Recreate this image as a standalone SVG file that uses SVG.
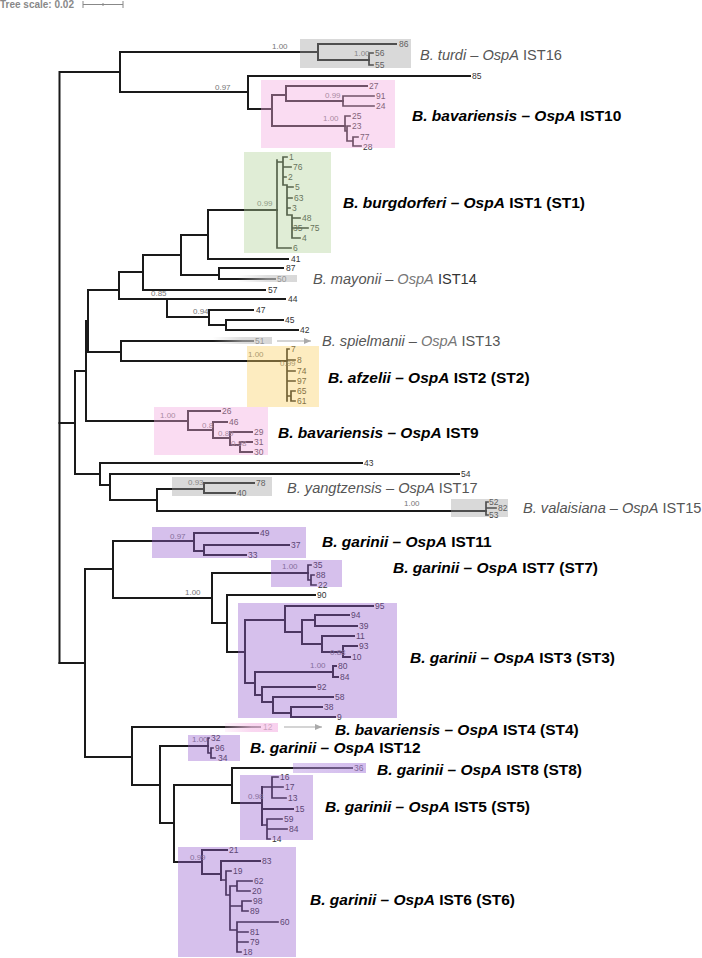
<svg xmlns="http://www.w3.org/2000/svg" width="702" height="958" viewBox="0 0 702 958">
<defs>
<style>
text{font-family:"Liberation Sans",Arial,sans-serif}
.t{fill:none;stroke:#1a1a1a;stroke-width:2;stroke-linecap:square}
.ti{fill:none;stroke:#1a1a1a;stroke-width:1.7;stroke-linecap:square}
.lf{font-size:8.5px;fill:#333}
.sv{font-size:8px;fill:#777}
.bl{font-size:15.5px;font-weight:bold;fill:#000}
.nl{font-size:14.6px;fill:#555}
.it{font-style:italic}
.bx{stroke:none}
.gy{fill:#a0a0a0;fill-opacity:0.4}
.pk{fill:#f2a7de;fill-opacity:0.4}
.gn{fill:#b1d298;fill-opacity:0.4}
.or{fill:#facf61;fill-opacity:0.4}
.pu{fill:#9861cf;fill-opacity:0.4}
.ar{stroke:#aaa;stroke-width:1.2;fill:none}
</style>
<marker id="ah" markerWidth="8" markerHeight="8" refX="7" refY="4" orient="auto" markerUnits="userSpaceOnUse">
<path d="M0 1 L7 4 L0 7 Z" fill="#aaa"/>
</marker>
<linearGradient id="gGray" x1="0" y1="0" x2="1" y2="0">
<stop offset="0" stop-color="#c8c8c8" stop-opacity="0"/>
<stop offset="0.5" stop-color="#c8c8c8" stop-opacity="0.6"/>
<stop offset="1" stop-color="#c8c8c8" stop-opacity="0.7"/>
</linearGradient>
<linearGradient id="gPink" x1="0" y1="0" x2="1" y2="0">
<stop offset="0" stop-color="#f7c6ea" stop-opacity="0.2"/>
<stop offset="0.5" stop-color="#f7c6ea" stop-opacity="0.7"/>
<stop offset="1" stop-color="#f7c6ea" stop-opacity="0.8"/>
</linearGradient>
<linearGradient id="gPurp" x1="0" y1="0" x2="1" y2="0">
<stop offset="0" stop-color="#b48ee0" stop-opacity="0.45"/>
<stop offset="1" stop-color="#b48ee0" stop-opacity="0.6"/>
</linearGradient>
</defs>

<rect width="702" height="958" fill="#fff"/>

<g id="scale">
<text x="0" y="8" style="font-size:10px;font-weight:bold;fill:#888">Tree scale: 0.02</text>
<path d="M83 4.5 H123 M83 1 V8 M123 1 V8 M103 3 V6" stroke="#888" stroke-width="1" fill="none"/>
</g>

<g id="connectors">
<path class="t" d="M59.5 72 V663 M59.5 72 H120 M120 52 V92 M120 52 H318 M318 44 V60 M318 44 H396 M318 60 H369 M120 92 H248 M248 76 V109 M248 76 H470 M248 109 H272 M272 95 V126 M272 95 H286 M286 86 V101 M286 86 H367 M286 101 H343 M272 126 H345"/>
<path class="ti" d="M369 53 V65 M369 53 H373 M369 65 H373 M343 96 V106 M343 96 H374 M343 106 H374 M345 116 V131 M345 116 H350 M345 131 H347 M347 126 V141 M347 126 H350 M347 141 H353 M353 137 V146 M353 137 H358 M353 146 H361"/>
<path class="t" d="M59.5 423 H75 M75 371 V474 M75 371 H86 M86 321 V421 M86 321 H88 M88 290 V352 M88 290 H119 M119 272 V299 M119 272 H143 M143 255 V290 M143 255 H181 M181 235 V275 M181 235 H208 M208 210 V259 M208 210 H277 M208 259 H288 M181 275 H219 M219 268 V279 M219 268 H283 M219 279 H275 M143 290 H265 M119 299 H285 M167 299 V317 M167 317 H209 M209 310 V325 M209 310 H253 M209 325 H226 M226 320 V330 M226 320 H283 M226 330 H298"/>
<path class="ti" d="M277 160 V248 M277 248 H291 M277 162 H283 M283 157 V185 M283 157 H287 M283 167 H291 M283 177 H286 M283 185 H287 M287 185 V215 M287 187 H293 M287 198 H292 M287 208 H290 M287 215 H292 M292 215 V238 M292 218 H300 M292 228 H308 M292 238 H300"/>
<path class="t" d="M88 352 H121 M121 341 V361 M121 341 H253 M121 361 H287 M86 421 H188 M188 411 V430 M188 411 H220 M188 430 H213 M213 422 V438 M213 422 H227 M213 438 H230 M230 432 V445 M230 432 H252 M230 445 H240 M240 442 V452 M240 442 H252 M240 452 H252"/>
<path class="ti" d="M287 349 V401 M287 349 H289 M287 360 H295 M287 371 H295 M287 381 H295 M287 396 H291 M291 391 V401 M291 391 H295 M291 401 H295"/>
<path class="t" d="M75 474 H100 M100 463 V485 M100 463 H362 M100 485 H110 M110 474 V500 M110 474 H459 M110 500 H157 M157 489 V511 M157 489 H204 M204 483 V493 M204 483 H254 M204 493 H235 M157 511 H486"/>
<path class="ti" d="M486 502 V515 M486 502 H488 M486 508 H496 M486 515 H488"/>
<path class="t" d="M59.5 663 H85 M85 569 V757 M85 569 H113 M113 541 V598 M113 541 H194 M194 533 V551 M194 533 H258 M194 551 H204 M204 545 V555 M204 545 H289 M204 555 H246 M113 598 H212 M212 573 V623 M212 573 H308 M212 623 H227 M227 595 V652 M227 595 H315 M227 652 H245 M245 620 V683 M245 620 H285 M285 606 V632 M285 606 H373 M285 632 H302 M302 620 V644 M302 620 H315 M315 615 V626 M315 615 H349 M315 626 H357 M302 644 H322 M322 636 V652 M322 636 H354 M322 652 H343 M343 646 V657 M343 646 H357 M343 657 H350 M245 683 H255 M255 672 V695 M255 672 H333 M333 666 V677 M333 666 H336 M333 677 H338 M255 695 H262 M262 687 V702 M262 687 H315 M262 702 H273 M273 697 V713 M273 697 H333 M273 713 H291 M291 707 V717 M291 707 H322 M291 717 H335"/>
<path class="ti" d="M308 565 V580 M308 565 H311 M308 580 H311 M311 575 V585 M311 575 H314 M311 585 H316"/>
<path class="t" d="M85 757 H132 M132 727 V785 M132 727 H260 M132 785 H160 M160 746 V823 M160 746 H208 M160 823 H174 M174 785 V862 M174 785 H232 M232 768 V803 M232 768 H352 M232 803 H262 M262 787 V825 M262 809 H293 M174 862 H202 M202 850 V874 M202 850 H227 M202 874 H221 M221 861 V880 M221 861 H260"/>
<path class="ti" d="M208 738 V753 M208 738 H209 M208 753 H211 M211 748 V758 M211 748 H213 M211 758 H215 M262 787 H272 M272 777 V798 M272 777 H278 M272 787 H283 M272 798 H286 M262 825 H267 M267 819 V839 M267 819 H282 M267 829 H287 M267 839 H270 M221 880 H226 M226 871 V895 M226 871 H231 M226 895 H230 M230 886 V930 M230 886 H237 M237 881 V891 M237 881 H252 M237 891 H250 M230 906 H242 M242 901 V911 M242 901 H251 M242 911 H248 M230 930 H237 M237 922 V952 M237 922 H278 M237 932 H248 M237 942 H248 M237 952 H241"/>
</g>

<g id="leaf-labels">
<text class="lf" x="399" y="47">86</text><text class="lf" x="375" y="56">56</text><text class="lf" x="375" y="68">55</text>
<text class="lf" x="472" y="79">85</text><text class="lf" x="369" y="89">27</text><text class="lf" x="376" y="99">91</text><text class="lf" x="376" y="109">24</text>
<text class="lf" x="352" y="119">25</text><text class="lf" x="352" y="129">23</text><text class="lf" x="360" y="140">77</text><text class="lf" x="363" y="150">28</text>
<text class="lf" x="289" y="160">1</text><text class="lf" x="293" y="170">76</text><text class="lf" x="288" y="180">2</text><text class="lf" x="295" y="190">5</text><text class="lf" x="294" y="201">63</text><text class="lf" x="292" y="211">3</text><text class="lf" x="302" y="221">48</text><text class="lf" x="293" y="231">35</text><text class="lf" x="310" y="231">75</text><text class="lf" x="302" y="241">4</text><text class="lf" x="293" y="251">6</text>
<text class="lf" x="291" y="262">41</text><text class="lf" x="286" y="271">87</text><text class="lf" x="277" y="282">50</text><text class="lf" x="268" y="293">57</text><text class="lf" x="288" y="302">44</text><text class="lf" x="256" y="313">47</text><text class="lf" x="285" y="323">45</text><text class="lf" x="300" y="333">42</text>
<text class="lf" x="255" y="344">51</text><text class="lf" x="291" y="352">7</text><text class="lf" x="297" y="363">8</text><text class="lf" x="297" y="374">74</text><text class="lf" x="297" y="384">97</text><text class="lf" x="297" y="394">65</text><text class="lf" x="297" y="404">61</text>
<text class="lf" x="222" y="414">26</text><text class="lf" x="229" y="425">46</text><text class="lf" x="254" y="435">29</text><text class="lf" x="254" y="445">31</text><text class="lf" x="254" y="455">30</text>
<text class="lf" x="364" y="466">43</text><text class="lf" x="461" y="477">54</text><text class="lf" x="256" y="486">78</text><text class="lf" x="237" y="496">40</text>
<text class="lf" x="489" y="505">52</text><text class="lf" x="498" y="511">82</text><text class="lf" x="489" y="518">53</text>
<text class="lf" x="260" y="536">49</text><text class="lf" x="291" y="548">37</text><text class="lf" x="248" y="558">33</text>
<text class="lf" x="313" y="568">35</text><text class="lf" x="316" y="578">88</text><text class="lf" x="318" y="588">22</text><text class="lf" x="317" y="598">90</text>
<text class="lf" x="375" y="609">95</text><text class="lf" x="351" y="618">94</text><text class="lf" x="359" y="629">39</text><text class="lf" x="356" y="639">11</text><text class="lf" x="359" y="649">93</text><text class="lf" x="352" y="660">10</text>
<text class="lf" x="338" y="669">80</text><text class="lf" x="340" y="680">84</text><text class="lf" x="317" y="690">92</text><text class="lf" x="335" y="700">58</text><text class="lf" x="324" y="710">38</text><text class="lf" x="337" y="720">9</text>
<text class="lf" x="263" y="730">12</text><text class="lf" x="211" y="741">32</text><text class="lf" x="215" y="751">96</text><text class="lf" x="218" y="761">34</text><text class="lf" x="354" y="771">36</text>
<text class="lf" x="280" y="780">16</text><text class="lf" x="285" y="790">17</text><text class="lf" x="288" y="801">13</text><text class="lf" x="295" y="812">15</text><text class="lf" x="284" y="822">59</text><text class="lf" x="289" y="832">84</text><text class="lf" x="272" y="842">14</text>
<text class="lf" x="229" y="853">21</text><text class="lf" x="262" y="864">83</text><text class="lf" x="233" y="874">19</text><text class="lf" x="254" y="884">62</text><text class="lf" x="252" y="894">20</text><text class="lf" x="253" y="904">98</text><text class="lf" x="250" y="914">89</text><text class="lf" x="280" y="925">60</text><text class="lf" x="250" y="935">81</text><text class="lf" x="250" y="945">79</text><text class="lf" x="243" y="955">18</text>
</g>

<g id="support-values">
<text class="sv" x="272" y="49">1.00</text><text class="sv" x="354" y="56">1.00</text><text class="sv" x="215" y="90">0.97</text>
<text class="sv" x="325" y="98">0.99</text><text class="sv" x="323" y="121">1.00</text><text class="sv" x="257" y="206">0.99</text>
<text class="sv" x="151" y="296">0.85</text><text class="sv" x="193" y="314">0.94</text>
<text class="sv" x="248" y="357">1.00</text><text class="sv" x="280" y="366">0.99</text>
<text class="sv" x="160" y="418">1.00</text><text class="sv" x="202" y="428">0.8</text><text class="sv" x="218" y="436">0.89</text><text class="sv" x="231" y="446">0.98</text>
<text class="sv" x="188" y="485">0.93</text><text class="sv" x="404" y="506">1.00</text>
<text class="sv" x="170" y="539">0.97</text><text class="sv" x="282" y="569">1.00</text><text class="sv" x="185" y="595">1.00</text>
<text class="sv" x="330" y="655">0.88</text><text class="sv" x="310" y="668">1.00</text>
<text class="sv" x="192" y="742">1.00</text><text class="sv" x="248" y="799">0.98</text><text class="sv" x="190" y="860">0.99</text>
</g>

<g id="clade-boxes">
<rect class="bx gy" x="300" y="39" width="111" height="29"/>
<rect class="bx pk" x="261" y="80" width="134" height="68"/>
<rect class="bx gn" x="244" y="152" width="87" height="101"/>
<rect class="bx or" x="247" y="346" width="72" height="61"/>
<rect class="bx pk" x="154" y="407" width="114" height="48"/>
<rect class="bx gy" x="172" y="477" width="100" height="19"/>
<rect class="bx gy" x="451" y="499" width="57" height="18"/>
<rect class="bx pu" x="152" y="527" width="154" height="31"/>
<rect class="bx pu" x="271" y="560" width="71" height="27"/>
<rect class="bx pu" x="238" y="603" width="159" height="115"/>
<rect class="bx pu" x="188" y="735" width="52" height="26"/>
<rect class="bx pu" x="240" y="775" width="73" height="65"/>
<rect class="bx pu" x="178" y="847" width="118" height="110"/>
<rect x="237" y="275" width="60" height="7" fill="url(#gGray)"/>
<rect x="213" y="337" width="59" height="7" fill="url(#gGray)"/>
<rect x="225" y="723" width="53" height="9" fill="url(#gPink)"/>
<rect x="293" y="763" width="73" height="10" fill="url(#gPurp)"/>
</g>

<g id="arrows">
<path class="ar" d="M277 341 H311" marker-end="url(#ah)"/>
<path class="ar" d="M284 727 H322" marker-end="url(#ah)"/>
</g>

<g id="n-turdi"><text class="nl" x="420" y="60"><tspan class="it">B. turdi – OspA</tspan> IST16</text></g>
<g id="n-ist10"><text class="bl" x="412" y="121"><tspan class="it">B. bavariensis – OspA</tspan> IST10</text></g>
<g id="n-ist1"><text class="bl" x="343" y="208"><tspan class="it">B. burgdorferi – OspA</tspan> IST1 (ST1)</text></g>
<g id="n-mayonii"><text class="nl" x="313" y="284"><tspan class="it">B. mayonii – </tspan><tspan class="it" style="fill:#777">OspA</tspan><tspan style="fill:#333"> IST14</tspan></text></g>
<g id="n-spielmanii"><text class="nl" x="322" y="346"><tspan class="it">B. spielmanii – </tspan><tspan class="it" style="fill:#777">OspA</tspan> IST13</text></g>
<g id="n-ist2"><text class="bl" x="328" y="383"><tspan class="it">B. afzelii – OspA</tspan> IST2 (ST2)</text></g>
<g id="n-ist9"><text class="bl" x="278" y="438"><tspan class="it">B. bavariensis – OspA</tspan> IST9</text></g>
<g id="n-yangtzensis"><text class="nl" x="287" y="493"><tspan class="it">B. yangtzensis – OspA</tspan> IST17</text></g>
<g id="n-valaisiana"><text class="nl" x="523" y="513"><tspan class="it">B. valaisiana – OspA</tspan> IST15</text></g>
<g id="n-ist11"><text class="bl" x="322" y="547"><tspan class="it">B. garinii – OspA</tspan> IST11</text></g>
<g id="n-ist7"><text class="bl" x="393" y="573"><tspan class="it">B. garinii – OspA</tspan> IST7 (ST7)</text></g>
<g id="n-ist3"><text class="bl" x="410" y="663"><tspan class="it">B. garinii – OspA</tspan> IST3 (ST3)</text></g>
<g id="n-ist4"><text class="bl" x="335" y="735"><tspan class="it">B. bavariensis – OspA</tspan> IST4 (ST4)</text></g>
<g id="n-ist12"><text class="bl" x="250" y="753"><tspan class="it">B. garinii – OspA</tspan> IST12</text></g>
<g id="n-ist8"><text class="bl" x="377" y="775"><tspan class="it">B. garinii – OspA</tspan> IST8 (ST8)</text></g>
<g id="n-ist5"><text class="bl" x="325" y="812"><tspan class="it">B. garinii – OspA</tspan> IST5 (ST5)</text></g>
<g id="n-ist6"><text class="bl" x="310" y="905"><tspan class="it">B. garinii – OspA</tspan> IST6 (ST6)</text></g>
</svg>
